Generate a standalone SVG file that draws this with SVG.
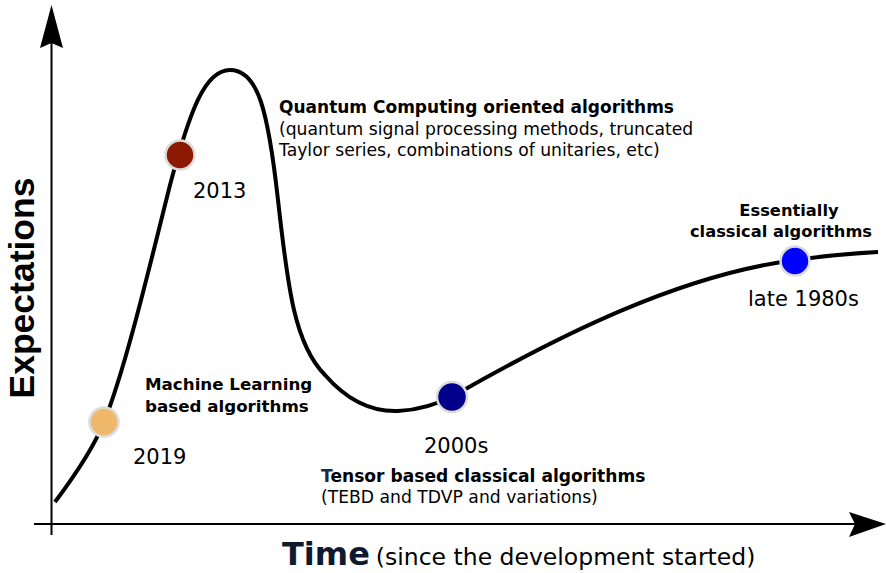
<svg xmlns="http://www.w3.org/2000/svg" width="886" height="573" viewBox="0 0 886 573">
<style>
.lab{font-family:"DejaVu Sans","Verdana",sans-serif;fill:#000}
.b{font-weight:bold}
.yr{font-size:21px}
.dot{stroke:#dcdcdc;stroke-width:2.5}
.axis{stroke:#000;stroke-width:2;fill:none}
</style>
<rect width="886" height="573" fill="#fff"/>
<g id="connectors">
  <line class="axis" x1="51.5" y1="535" x2="51.5" y2="42"/>
  <path d="M51.5,5 L63,48 L51.5,43 L40,48 Z" fill="#000"/>
  <line class="axis" x1="34" y1="524" x2="856" y2="524"/>
  <path d="M886,524 L849,537 L855,524 L849,512 Z" fill="#000"/>
  <path d="M55,502 C70,482 92,452 104,422 C125,370 150,265 170,185 C190,110 205,70 230,70 C258,70 268,110 278,200 C288,290 295,345 325,375 C345,398 370,412 398,411 C420,410 440,403 455,395 C560,335 680,275 795,260 C830,255 860,253 878,252" fill="none" stroke="#000" stroke-width="4"/>
</g>
<g id="axis-labels">
  <text transform="translate(34,288) rotate(-90)" text-anchor="middle" font-family="Liberation Sans, Arial, sans-serif" font-weight="bold" font-size="35.5">Expectations</text>
  <text class="lab" x="282" y="565"><tspan class="b" font-size="32" fill="#0f1a2e">Time</tspan><tspan font-size="23.5" dx="6">(since the development started)</tspan></text>
</g>
<g id="node-2013">
  <circle class="dot" cx="180" cy="155" r="14.5" fill="#8b1a00"/>
  <text class="lab yr" x="193" y="198">2013</text>
  <text class="lab b" x="279" y="113" font-size="17">Quantum Computing oriented algorithms</text>
  <text class="lab" x="279" y="135" font-size="17.2">(quantum signal processing methods, truncated</text>
  <text class="lab" x="279" y="156" font-size="17.2">Taylor series, combinations of unitaries, etc)</text>
</g>
<g id="node-2019">
  <circle class="dot" cx="104" cy="422" r="14.5" fill="#efb86a"/>
  <text class="lab yr" x="133" y="464">2019</text>
  <text class="lab b" x="145" y="390" font-size="16.7">Machine Learning</text>
  <text class="lab b" x="145" y="412" font-size="16.7">based algorithms</text>
</g>
<g id="node-2000s">
  <circle class="dot" cx="452" cy="397" r="15" fill="#00008b"/>
  <text class="lab yr" x="424" y="453">2000s</text>
  <text class="lab b" x="321" y="482" font-size="17.1"><tspan fill="#1a2a44">T</tspan>ensor based classical algorithms</text>
  <text class="lab" x="321" y="503" font-size="17.2">(TEBD and TDVP and variations)</text>
</g>
<g id="node-1980s">
  <circle class="dot" cx="795" cy="261" r="14.5" fill="#0000ff"/>
  <text class="lab yr" x="748" y="306">late 1980s</text>
  <text class="lab b" x="789" y="216" font-size="16.3" text-anchor="middle">Essentially</text>
  <text class="lab b" x="781" y="237" font-size="16.3" text-anchor="middle">classical algorithms</text>
</g>
</svg>
